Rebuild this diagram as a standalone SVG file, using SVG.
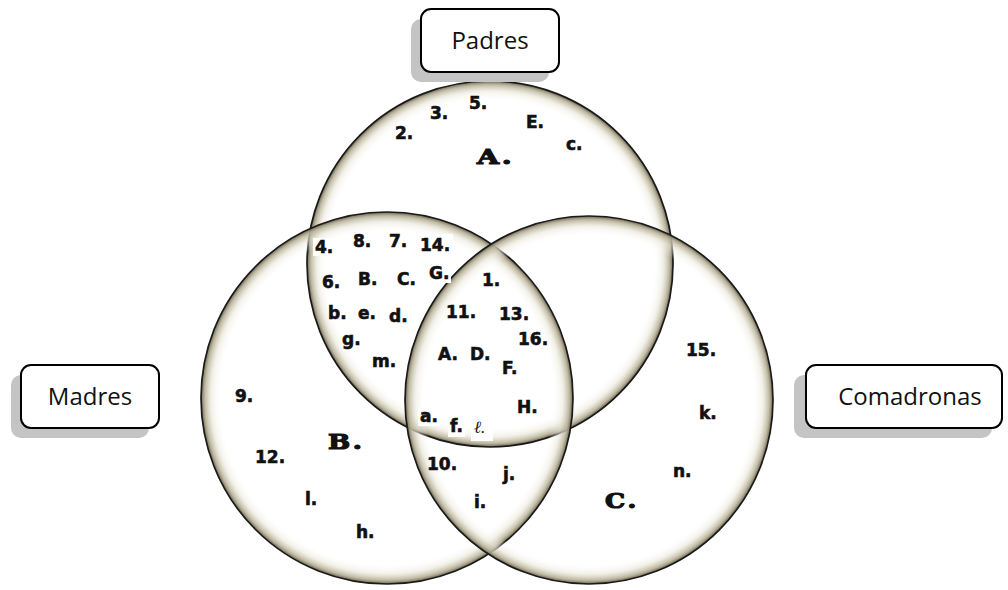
<svg xmlns="http://www.w3.org/2000/svg" width="1008" height="590" viewBox="0 0 1008 590">
<style>
.ring{stroke:#1a1a1a;stroke-width:1.7}
.lbl{font-family:"DejaVu Sans",sans-serif;font-weight:bold;font-size:17px;fill:#111;stroke:#111;stroke-width:0.6}
.big{font-family:"DejaVu Serif","Liberation Serif",serif;font-weight:bold;font-size:21px;fill:#111;stroke:#111;stroke-width:1.2}
.ell{font-family:"Liberation Serif","DejaVu Serif",serif;font-style:italic;font-size:17px;fill:#111}
.bg{fill:#fff}
.box{fill:#fff;stroke:#000;stroke-width:2}
.shadow{fill:#c4c4c4}
.title{font-family:"Open Sans",sans-serif;font-size:24px;fill:#111;text-anchor:middle}
</style>
<defs>
<radialGradient id="glow" cx="0.5" cy="0.5" r="0.5">
<stop offset="0" stop-color="#ffffff" stop-opacity="0"/>
<stop offset="0.89" stop-color="#ffffff" stop-opacity="0"/>
<stop offset="0.945" stop-color="#e9e6d8" stop-opacity="0.6"/>
<stop offset="0.98" stop-color="#b8b299" stop-opacity="0.92"/>
<stop offset="1" stop-color="#6d6652" stop-opacity="1"/>
</radialGradient>
</defs>
<rect width="1008" height="590" fill="#fff"/>
<g id="circle-padres"><circle class="ring" cx="490" cy="264" r="183" fill="url(#glow)"/></g>
<g id="circle-madres"><circle class="ring" cx="387" cy="398" r="186" fill="url(#glow)"/></g>
<g id="circle-comadronas"><circle class="ring" cx="589" cy="400" r="184" fill="url(#glow)"/></g>
<g id="connectors"></g>
<g id="label-backs">
<rect class="bg" x="313" y="238" width="22" height="18"/>
<rect class="bg" x="417" y="234" width="36" height="19"/>
<rect class="bg" x="426" y="264" width="25" height="19"/>
<rect class="bg" x="418" y="408" width="22" height="18"/>
<rect class="bg" x="448" y="418" width="17" height="19"/>
<rect class="bg" x="471" y="418" width="22" height="23"/>
</g>
<g id="items">
<text class="lbl" x="395" y="139">2.</text>
<text class="lbl" x="430" y="119">3.</text>
<text class="lbl" x="469" y="109">5.</text>
<text class="lbl" x="526" y="128">E.</text>
<text class="lbl" x="566" y="150">c.</text>
<text class="big" transform="translate(477,164) scale(1.35,1)">A<tspan dx="2">.</tspan></text>
<text class="lbl" x="315" y="253">4.</text>
<text class="lbl" x="353" y="247">8.</text>
<text class="lbl" x="389" y="247">7.</text>
<text class="lbl" x="420" y="251">14.</text>
<text class="lbl" x="322" y="288">6.</text>
<text class="lbl" x="358" y="285">B.</text>
<text class="lbl" x="397" y="285">C.</text>
<text class="lbl" x="429" y="279">G.</text>
<text class="lbl" x="328" y="319">b.</text>
<text class="lbl" x="358" y="319">e.</text>
<text class="lbl" x="389" y="322">d.</text>
<text class="lbl" x="342" y="345">g.</text>
<text class="lbl" x="372" y="367">m.</text>
<text class="lbl" x="482" y="286">1.</text>
<text class="lbl" x="446" y="318">11.</text>
<text class="lbl" x="499" y="320">13.</text>
<text class="lbl" x="518" y="345">16.</text>
<text class="lbl" x="438" y="360">A.</text>
<text class="lbl" x="470" y="360">D.</text>
<text class="lbl" x="502" y="374">F.</text>
<text class="lbl" x="517" y="413">H.</text>
<text class="lbl" x="420" y="422">a.</text>
<text class="lbl" x="450" y="432">f.</text>
<text class="ell" x="474" y="433">ℓ.</text>
<text class="lbl" x="427" y="470">10.</text>
<text class="lbl" x="503" y="480">j.</text>
<text class="lbl" x="474" y="508">i.</text>
<text class="lbl" x="235" y="402">9.</text>
<text class="big" transform="translate(328,449) scale(1.25,1)">B<tspan dx="2">.</tspan></text>
<text class="lbl" x="255" y="463">12.</text>
<text class="lbl" x="305" y="505">l.</text>
<text class="lbl" x="356" y="538">h.</text>
<text class="lbl" x="686" y="356">15.</text>
<text class="lbl" x="699" y="419">k.</text>
<text class="lbl" x="673" y="477">n.</text>
<text class="big" transform="translate(605,508) scale(1.2,1)">C<tspan dx="2">.</tspan></text>
</g>
<g id="node-padres">
<rect class="shadow" x="411" y="19" width="138" height="63" rx="10"/>
<rect class="box" x="421" y="9" width="138" height="63" rx="10"/>
<text class="title" x="490" y="49">Padres</text>
</g>
<g id="node-madres">
<rect class="shadow" x="11" y="375" width="138" height="63" rx="10"/>
<rect class="box" x="21" y="365" width="138" height="63" rx="10"/>
<text class="title" x="90" y="405">Madres</text>
</g>
<g id="node-comadronas">
<rect class="shadow" x="794" y="375" width="198" height="63" rx="10"/>
<rect class="box" x="806" y="365" width="196" height="63" rx="10"/>
<text class="title" x="910" y="405">Comadronas</text>
</g>
</svg>
